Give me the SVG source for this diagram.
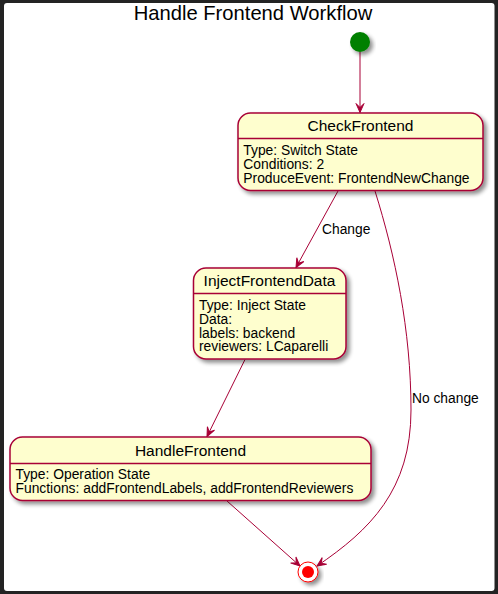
<svg xmlns="http://www.w3.org/2000/svg" width="498" height="594" viewBox="0 0 498 594">
<style>
.st{fill:#FEFECE;stroke:#A80036;stroke-width:1.5}
.dv{stroke:#A80036;stroke-width:1.5}
.ttl{font-family:"Liberation Sans",Arial,sans-serif;font-size:15.5px;fill:#000;text-anchor:middle}
.bd{font-family:"Liberation Sans",Arial,sans-serif;font-size:13.85px;fill:#000}
.lbl{font-family:"Liberation Sans",Arial,sans-serif;font-size:13.8px;fill:#000}
.ed{fill:none;stroke:#A80036;stroke-width:1}
</style>
<defs>
<filter id="sh" x="-20%" y="-20%" width="150%" height="160%">
<feGaussianBlur in="SourceAlpha" stdDeviation="2"/>
<feOffset dx="3" dy="3" result="o"/>
<feComponentTransfer><feFuncA type="linear" slope="0.45"/></feComponentTransfer>
<feMerge><feMergeNode/><feMergeNode in="SourceGraphic"/></feMerge>
</filter>
<marker id="ah" viewBox="-10 -5 11 10" refX="0" refY="0" markerWidth="11" markerHeight="10" markerUnits="userSpaceOnUse" orient="auto">
<path d="M0,0 L-9,-4 L-5,0 L-9,4 Z" fill="#A80036" stroke="#A80036" stroke-width="1"/>
</marker>
</defs>
<rect x="0" y="0" width="498" height="594" fill="#232323"/>
<rect x="4" y="3" width="490.5" height="588" rx="3" fill="#FFFFFF"/>
<text x="253" y="20" font-family="Liberation Sans, Arial, sans-serif" font-size="20.2" text-anchor="middle" fill="#000">Handle Frontend Workflow</text>

<g id="connectors">
<path class="ed" d="M360,52 L360,112.5" marker-end="url(#ah)"/>
<path class="ed" d="M338,191 L296,267.5" marker-end="url(#ah)"/>
<path class="ed" d="M375,191 C395,255 411,330 411,410 C411,490 370,530 317,566" marker-end="url(#ah)"/>
<path class="ed" d="M245,359.5 L207,436.5" marker-end="url(#ah)"/>
<path class="ed" d="M227,501 L300,566" marker-end="url(#ah)"/>
<text class="lbl" x="322" y="233.5">Change</text>
<text class="lbl" x="412" y="403">No change</text>
</g>

<g id="start">
<circle cx="360" cy="42" r="10" fill="#008000" filter="url(#sh)"/>
</g>

<g id="CheckFrontend">
<rect class="st" x="238" y="113" width="245" height="77.5" rx="12.5" filter="url(#sh)"/>
<line class="dv" x1="238" y1="138.5" x2="483" y2="138.5"/>
<text class="ttl" x="360.5" y="131">CheckFrontend</text>
<text class="bd" x="243.3" y="155">Type: Switch State</text>
<text class="bd" x="243.3" y="169">Conditions: 2</text>
<text class="bd" x="243.3" y="183">ProduceEvent: FrontendNewChange</text>
</g>

<g id="InjectFrontendData">
<rect class="st" x="193.5" y="268" width="152.5" height="91" rx="12.5" filter="url(#sh)"/>
<line class="dv" x1="193.5" y1="293.5" x2="346" y2="293.5"/>
<text class="ttl" x="269.5" y="286">InjectFrontendData</text>
<text class="bd" x="199" y="309.5">Type: Inject State</text>
<text class="bd" x="199" y="323.5">Data:</text>
<text class="bd" x="199" y="337.5">labels: backend</text>
<text class="bd" x="199" y="351">reviewers: LCaparelli</text>
</g>

<g id="HandleFrontend">
<rect class="st" x="10" y="437" width="361" height="63.5" rx="12.5" filter="url(#sh)"/>
<line class="dv" x1="10" y1="463.5" x2="371" y2="463.5"/>
<text class="ttl" x="190.5" y="455.5">HandleFrontend</text>
<text class="bd" x="15.5" y="479">Type: Operation State</text>
<text class="bd" x="15.5" y="493">Functions: addFrontendLabels, addFrontendReviewers</text>
</g>

<g id="end">
<circle cx="308" cy="572" r="10" fill="#FFFFFF" stroke="#FF0000" stroke-width="1" filter="url(#sh)"/>
<circle cx="308" cy="572" r="6" fill="#FF0000"/>
</g>
</svg>
